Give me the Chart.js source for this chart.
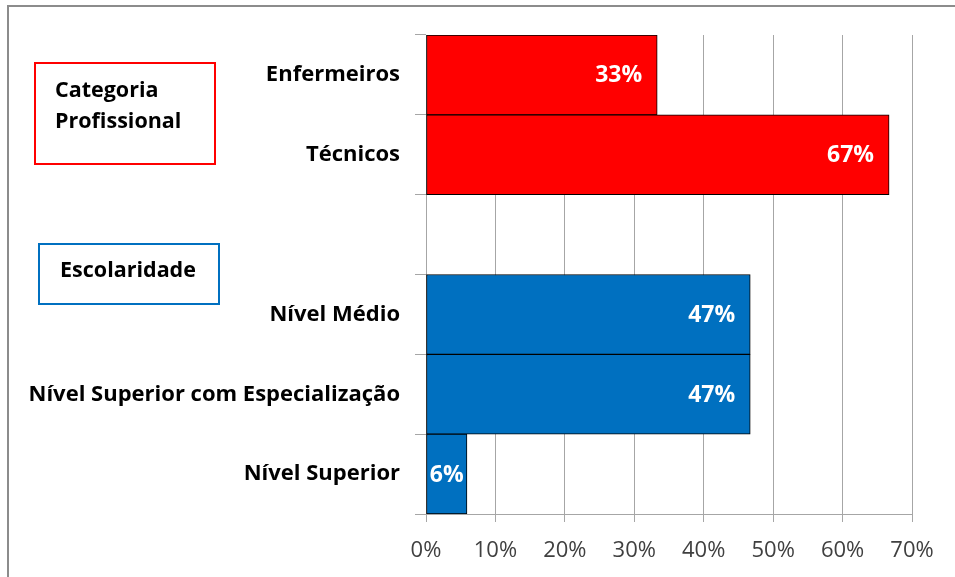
<!DOCTYPE html>
<html>
<head>
<meta charset="utf-8">
<script src="https://cdn.jsdelivr.net/npm/chart.js@4/dist/chart.umd.min.js"></script>
<style>
  body { margin: 0; background: #fff; }
  canvas { display: block; }
</style>
</head>
<body>
<canvas id="barChart" width="955" height="577"></canvas>
<script>
// categories top to bottom, blank one separates the two groups
const categories = ["Enfermeiros", "Técnicos", "", "Nível Médio", "Nível Superior com Especialização", "Nível Superior"];
const shares = [33.3, 66.7, null, 46.7, 46.7, 5.9];
const barColors = ["#FF0000", "#FF0000", "#FFFFFF", "#0070C0", "#0070C0", "#0070C0"];
const xTicks = [0, 10, 20, 30, 40, 50, 60, 70];

const FONT = "'Open Sans', sans-serif";

// white % labels inside the bars
const valueLabels = {
    id: "valueLabels",
    afterDatasetsDraw(chart) {
        const c = chart.ctx;
        const bars = chart.getDatasetMeta(0).data;
        c.save();
        c.font = "bold 23px " + FONT;
        c.fillStyle = "#fff";
        c.textBaseline = "middle";
        c.textAlign = "center";
        for (let i = 0; i < bars.length; i++) {
            if (shares[i] == null) continue;
            const b = bars[i];
            const txt = Math.round(shares[i]) + "%";
            const w = c.measureText(txt).width;
            let x = b.x - 15 - w / 2;
            if (b.x - b.base < w + 12) x = (b.x + b.base) / 2;
            c.fillText(txt, x, b.y + 1);
        }
        c.restore();
    }
};

// group boxes and outer frame
const extras = {
    id: "extras",
    afterDraw(chart) {
        const c = chart.ctx;
        c.save();
        c.strokeStyle = "#8c8c8c";
        c.lineWidth = 2;
        c.beginPath();
        c.moveTo(8, 600);
        c.lineTo(8, 6);
        c.lineTo(960, 6);
        c.stroke();

        c.lineWidth = 2;
        c.strokeStyle = "#FF0000";
        c.strokeRect(35, 63, 180, 101);
        c.strokeStyle = "#0070C0";
        c.strokeRect(39, 244, 180, 60);

        c.fillStyle = "#000";
        c.font = "bold 21.5px " + FONT;
        c.textBaseline = "middle";
        c.textAlign = "left";
        c.fillText("Categoria", 55, 91);
        c.fillText("Profissional", 55, 122);
        c.textAlign = "center";
        c.fillText("Escolaridade", 128, 271);
        c.restore();
    }
};

const ctx = document.getElementById("barChart").getContext("2d");

const chart = new Chart(ctx, {
    type: "bar",
    data: {
        labels: categories,
        datasets: [{
            data: shares,
            backgroundColor: barColors,
            borderColor: "#000",
            borderWidth: 1,
            borderSkipped: false,
            barPercentage: 1,
            categoryPercentage: 1
        }]
    },
    options: {
        indexAxis: "y",
        responsive: false,
        animation: false,
        layout: { padding: { top: 35, right: 43, left: 0, bottom: 0 } },
        plugins: {
            legend: { display: false },
            tooltip: { enabled: false }
        },
        scales: {
            x: {
                min: 0,
                max: 70,
                afterFit: (s) => { s.height = 63; },
                afterBuildTicks: (s) => { s.ticks = xTicks.map(v => ({ value: v })); },
                grid: { color: "#a6a6a6", lineWidth: 1, tickLength: 8 },
                border: { color: "#a6a6a6" },
                ticks: {
                    color: "#404040",
                    padding: 16,
                    font: { family: FONT, size: 22 },
                    callback: (v) => v + "%"
                }
            },
            y: {
                afterFit: (s) => { s.width = 426; },
                grid: { drawOnChartArea: false, color: "#a6a6a6", tickLength: 11, offset: true },
                border: { color: "#a6a6a6" },
                ticks: {
                    color: "#000",
                    padding: 15,
                    autoSkip: false,
                    font: { family: FONT, size: 22, weight: "bold" }
                }
            }
        }
    },
    plugins: [valueLabels, extras]
});
</script>
</body>
</html>
